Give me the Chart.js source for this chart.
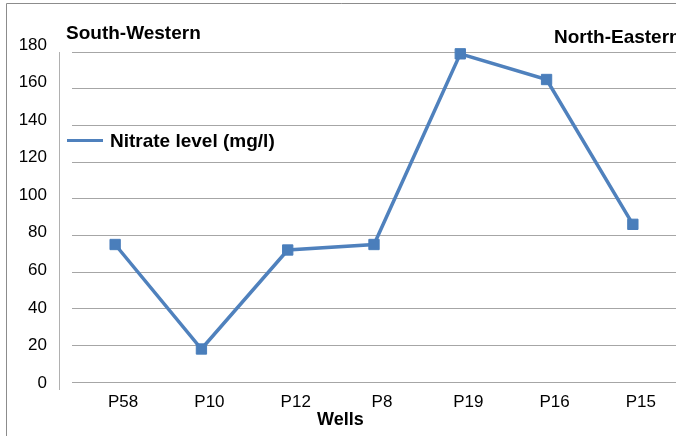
<!DOCTYPE html>
<html>
<head>
<meta charset="utf-8">
<script src="https://cdn.jsdelivr.net/npm/chart.js@4/dist/chart.umd.min.js"></script>
<style>
  html, body { margin: 0; padding: 0; background: #fff; }
  body { width: 676px; height: 436px; overflow: hidden; position: relative; font-family: "Liberation Sans", Arial, sans-serif; }
  #wrap { position: absolute; left: 0; top: 0; width: 676px; height: 436px; }
  .lbl { position: absolute; font-weight: bold; font-size: 19px; line-height: 19px; color: #000; white-space: nowrap; }
  #legline { position: absolute; left: 67px; top: 139px; width: 36px; height: 3px; background: #4F81BD; }
</style>
</head>
<body>
<div id="wrap"><canvas id="c" width="676" height="436"></canvas></div>
<div class="lbl" style="left:66px; top:23px;">South-Western</div>
<div class="lbl" style="left:554px; top:27px;">North-Eastern</div>
<div id="legline"></div>
<div class="lbl" style="left:110px; top:131px;">Nitrate level (mg/l)</div>
<div class="lbl" style="left:317px; top:410px; font-size:18px;">Wells</div>
<script>
const wells = ["P58", "P10", "P12", "P8", "P19", "P16", "P15"];
const nitrate = [75, 18, 72, 75, 179, 165, 86];
const yTicks = [0, 20, 40, 60, 80, 100, 120, 140, 160, 180];

const frame = {
  id: 'frame',
  beforeDraw(chart) {
    const ctx = chart.ctx;
    ctx.save();
    ctx.fillStyle = '#fff';
    ctx.fillRect(0, 0, chart.width, chart.height);
    ctx.strokeStyle = '#8c8c8c';
    ctx.lineWidth = 1;
    ctx.beginPath();
    ctx.moveTo(6.5, chart.height);
    ctx.lineTo(6.5, 3.5);
    ctx.lineTo(chart.width, 3.5);
    ctx.stroke();
    const a = chart.chartArea;
    ctx.strokeStyle = '#b0b0b0';
    ctx.beginPath();
    ctx.moveTo(a.left - 12.5, a.top);
    ctx.lineTo(a.left - 12.5, a.bottom + 8);
    ctx.stroke();
    ctx.restore();
  }
};

new Chart(document.getElementById('c'), {
  type: 'line',
  data: {
    labels: wells,
    datasets: [{
      label: 'Nitrate level (mg/l)',
      data: nitrate,
      yAxisID: 'y',
      borderColor: '#4F81BD',
      backgroundColor: '#4A7EBB',
      borderWidth: 3.5,
      pointStyle: 'rect',
      pointRadius: 7.3,
      pointHoverRadius: 7.3,
      pointBorderWidth: 1,
      pointBorderColor: '#4A7EBB',
      pointBackgroundColor: '#4A7EBB',
      tension: 0,
      clip: false
    }]
  },
  options: {
    responsive: false,
    animation: false,
    devicePixelRatio: 1,
    layout: { autoPadding: false, padding: { top: 52, right: -1, left: 0, bottom: 0 } },
    plugins: { legend: { display: false }, title: { display: false }, tooltip: { enabled: false } },
    scales: {
      x: {
        type: 'category',
        offset: true,
        grid: { display: false, drawTicks: false },
        border: { display: false },
        ticks: { color: '#000', font: { family: 'Liberation Sans', size: 17 }, padding: 10, labelOffset: 8, maxRotation: 0, autoSkip: false },
        afterFit(s) { s.height = 54; }
      },
      yl: {
        position: 'left',
        min: 0.53,
        max: 176.3,
        afterBuildTicks(s) { s.ticks = yTicks.map(v => ({ value: v })); },
        grid: { display: false, drawTicks: false },
        border: { display: false },
        ticks: { color: '#000', font: { family: 'Liberation Sans', size: 17 }, padding: 25 },
        afterFit(s) { s.width = 72; }
      },
      y: {
        position: 'left',
        min: 0,
        max: 180,
        afterBuildTicks(s) { s.ticks = yTicks.map(v => ({ value: v })); },
        grid: { color: '#a6a6a6', lineWidth: 1, drawTicks: false },
        border: { display: false },
        ticks: { display: false },
        afterFit(s) { s.width = 0; }
      }
    }
  },
  plugins: [frame]
});
</script>
</body>
</html>
